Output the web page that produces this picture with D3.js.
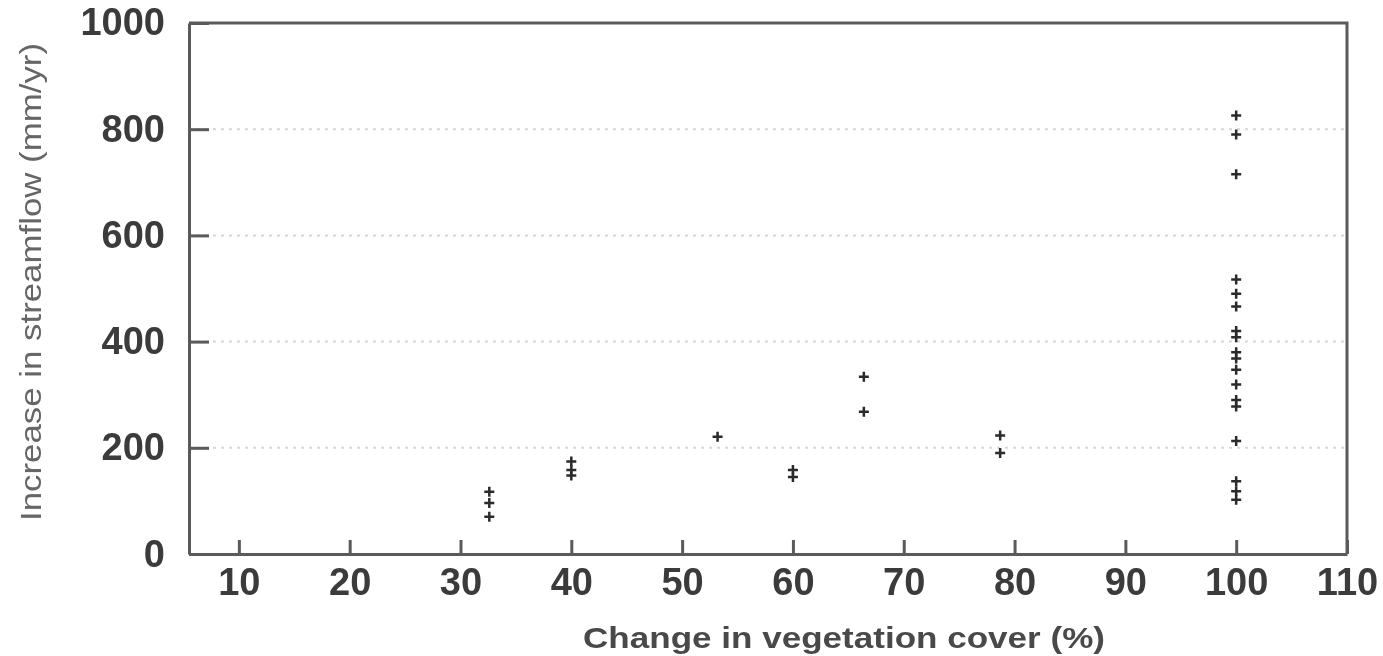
<!DOCTYPE html>
<html>
<head>
<meta charset="utf-8">
<script src="https://cdn.jsdelivr.net/npm/d3@7"></script>
<style>
  body { margin: 0; background: #fff; }
  text { font-family: "Liberation Sans", Arial, sans-serif; }
</style>
</head>
<body>
<script>
// values
const coverChange = [32.6, 32.6, 32.6, 40, 40, 40, 53.2, 60, 60, 66.4, 66.4, 78.7, 78.7,
  100, 100, 100, 100, 100, 100, 100, 100, 100, 100, 100, 100, 100, 100, 100, 100, 100, 100, 100];
const streamflowIncrease = [117, 96, 70, 174, 158, 148, 221, 158, 145, 334, 268, 223, 190,
  826, 790, 715, 517, 490, 466, 420, 408, 380, 368, 347, 319, 290, 278, 213, 137, 118, 102];
const xTicks = [10, 20, 30, 40, 50, 60, 70, 80, 90, 100, 110];
const yTicks = [0, 200, 400, 600, 800, 1000];
const gridValues = [200, 400, 600, 800];

const width = 1383, height = 656;
const margin = {top: 23, right: 36, bottom: 102, left: 189};

const svg = d3.select('body')
  .append('svg')
  .attr('width', width)
  .attr('height', height);

const x = d3.scaleLinear().domain([5.5, 110]).range([margin.left, width - margin.right]);
const y = d3.scaleLinear().domain([0, 1000]).range([height - margin.bottom, margin.top]);

/* soften everything a little, the source is a blurry scan */
const defs = svg.append('defs');
defs.append('filter').attr('id', 'soft')
  .append('feGaussianBlur').attr('stdDeviation', 0.7);

const plot = svg.append('g').attr('filter', 'url(#soft)');

// dotted grid
plot.append('g')
  .selectAll('line')
  .data(gridValues)
  .join('line')
  .attr('x1', x.range()[0])
  .attr('x2', x.range()[1])
  .attr('y1', d => y(d))
  .attr('y2', d => y(d))
  .attr('stroke', '#d8d8d0')
  .attr('stroke-width', 2)
  .attr('stroke-dasharray', '3,5');

// x axis, ticks pointing inward
const xAxis = plot.append('g')
  .attr('transform', `translate(0,${y(0)})`)
  .call(d3.axisBottom(x).tickValues(xTicks).tickSizeInner(-14).tickSizeOuter(0).tickPadding(28));
xAxis.select('.domain').attr('stroke', '#5a5a5a').attr('stroke-width', 3);
xAxis.selectAll('.tick line').attr('stroke', '#5a5a5a').attr('stroke-width', 3);
xAxis.selectAll('.tick text')
  .attr('font-size', 38).attr('font-weight', 'bold').attr('fill', '#3a3a3a')
  .attr('dy', '0.35em');

// y axis
const yAxis = plot.append('g')
  .attr('transform', `translate(${x.range()[0]},0)`)
  .call(d3.axisLeft(y).tickValues(yTicks).tickFormat(d3.format('d'))
    .tickSizeInner(-20).tickSizeOuter(0).tickPadding(24));
yAxis.select('.domain').attr('stroke', '#5a5a5a').attr('stroke-width', 3);
yAxis.selectAll('.tick line').attr('stroke', '#5a5a5a').attr('stroke-width', 3);
yAxis.selectAll('.tick text')
  .attr('font-size', 38).attr('font-weight', 'bold').attr('fill', '#3a3a3a');
yAxis.selectAll('.tick').filter(d => d === 1000).select('text').attr('dy', '0.3em');

// top and right frame
plot.append('path')
  .attr('d', `M${x.range()[0]},${y(1000)}H${x.range()[1]}V${y(0)}`)
  .attr('fill', 'none')
  .attr('stroke', '#5a5a5a')
  .attr('stroke-width', 3);

// points drawn as small crosses
const pts = d3.range(streamflowIncrease.length);
plot.append('g')
  .selectAll('path')
  .data(pts)
  .join('path')
  .attr('transform', i => `translate(${x(coverChange[i])},${y(streamflowIncrease[i])})`)
  .attr('d', 'M-5,0H5M0,-5V5')
  .attr('stroke', '#2a2a2a')
  .attr('stroke-width', 2.5);

// axis titles
svg.append('text')
  .attr('x', 844)
  .attr('y', 648)
  .attr('text-anchor', 'middle')
  .attr('font-size', 30)
  .attr('font-weight', 'bold')
  .attr('fill', '#4a4a4a')
  .attr('textLength', 522)
  .attr('lengthAdjust', 'spacingAndGlyphs')
  .attr('filter', 'url(#soft)')
  .text('Change in vegetation cover (%)');

svg.append('text')
  .attr('transform', 'translate(41,282) rotate(-90)')
  .attr('text-anchor', 'middle')
  .attr('font-size', 29)
  .attr('fill', '#666')
  .attr('textLength', 478)
  .attr('lengthAdjust', 'spacingAndGlyphs')
  .attr('filter', 'url(#soft)')
  .text('Increase in streamflow (mm/yr)');
</script>
</body>
</html>
